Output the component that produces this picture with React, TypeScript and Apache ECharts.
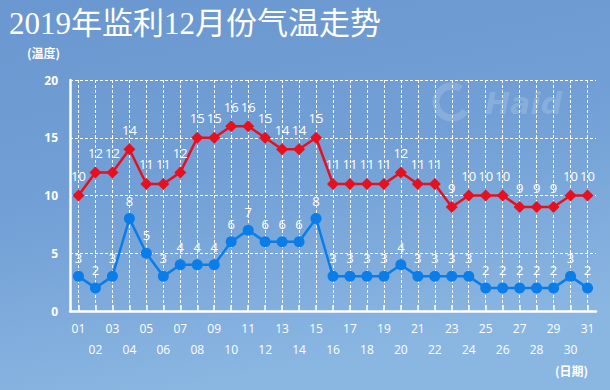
import React, { useEffect, useRef } from "react";
import * as echarts from "echarts";

const days = ["01","02","03","04","05","06","07","08","09","10","11","12","13","14","15","16","17","18","19","20","21","22","23","24","25","26","27","28","29","30","31"];
const highTemps = [10,12,12,14,11,11,12,15,15,16,16,15,14,14,15,11,11,11,11,12,11,11,9,10,10,10,9,9,9,10,10];
const lowTemps = [3,2,3,8,5,3,4,4,4,6,7,6,6,6,8,3,3,3,3,4,3,3,3,3,2,2,2,2,2,3,2];
const yTicks = { min: 0, max: 20, interval: 5 };

export default function App() {
  const ref = useRef<HTMLDivElement>(null);
  useEffect(() => {
    if (!ref.current) return;
    const chart = echarts.init(ref.current, undefined, { renderer: "svg" });
    const labelFont = "'Open Sans', 'DejaVu Sans', sans-serif";
    chart.setOption({
      animation: false,
      backgroundColor: new echarts.graphic.LinearGradient(0, 0, 0.3, 1, [
        { offset: 0, color: "#6a97cf" },
        { offset: 0.5, color: "#729fd5" },
        { offset: 1, color: "#8ab6e2" },
      ]),
      title: {
        text: "2019年监利12月份气温走势",
        left: 4,
        top: 3,
        textStyle: {
          color: "#ffffff",
          fontSize: 31,
          fontWeight: "normal",
          fontFamily: "'Liberation Serif', 'Noto Sans CJK SC', serif",
        },
      },
      graphic: [
        {
          type: "text",
          left: 485,
          top: 88,
          style: {
            text: "Haid",
            fill: "rgba(255,255,255,0.16)",
            font: "italic bold 30px 'DejaVu Sans', sans-serif",
          },
        },
        {
          type: "arc",
          shape: { cx: 452, cy: 102, r: 16, startAngle: 0.6, endAngle: 5.3 },
          style: { stroke: "rgba(255,255,255,0.16)", lineWidth: 7, fill: "none" },
        },
        {
          type: "text",
          left: 27,
          top: 46,
          style: {
            text: "(温度)",
            fill: "#ffffff",
            font: "bold 12px 'Noto Sans CJK SC', sans-serif",
          },
        },
        {
          type: "text",
          left: 555,
          top: 364,
          style: {
            text: "(日期)",
            fill: "#ffffff",
            font: "bold 12px 'Noto Sans CJK SC', sans-serif",
          },
        },
      ],
      grid: { left: 70, right: 14, top: 80, bottom: 79, containLabel: false },
      xAxis: {
        type: "category",
        data: days,
        boundaryGap: true,
        axisLine: { lineStyle: { color: "#ffffff", width: 2.5 } },
        axisTick: { show: true, alignWithLabel: true, inside: true, length: 6, lineStyle: { color: "#ffffff", width: 1.5 } },
        splitLine: {
          show: true,
          alignWithLabel: true,
          lineStyle: { color: "#ffffff", type: [3, 2], width: 1 },
        },
        axisLabel: {
          interval: 0,
          color: "#ffffff",
          fontSize: 12,
          fontFamily: labelFont,
          lineHeight: 21,
          margin: 7,
          formatter: (v: string, i: number) => (i % 2 === 0 ? v + "\n " : " \n" + v),
        },
      },
      yAxis: {
        type: "value",
        min: yTicks.min,
        max: yTicks.max,
        interval: yTicks.interval,
        axisLine: { show: true, lineStyle: { color: "#ffffff", width: 2.5 } },
        axisTick: { show: false },
        axisLabel: {
          color: "#ffffff",
          fontWeight: "bold",
          fontSize: 12,
          fontFamily: labelFont,
          margin: 12,
        },
        splitLine: { show: true, lineStyle: { color: "#ffffff", type: [3, 2], width: 1 } },
      },
      series: [
        {
          name: "最高温度",
          type: "line",
          data: highTemps,
          symbol: "diamond",
          symbolSize: 12,
          itemStyle: { color: "#e8101e" },
          lineStyle: { color: "#e8101e", width: 2.5 },
          label: {
            show: true,
            position: "top",
            distance: 7,
            color: "#ffffff",
            fontSize: 13,
            fontFamily: labelFont,
          },
          z: 3,
        },
        {
          name: "最低温度",
          type: "line",
          data: lowTemps,
          symbol: "circle",
          symbolSize: 11,
          itemStyle: { color: "#0a7de8" },
          lineStyle: { color: "#0a7de8", width: 2.5 },
          label: {
            show: true,
            position: "top",
            distance: 6,
            color: "#ffffff",
            fontSize: 13,
            fontFamily: labelFont,
          },
          z: 3,
        },
      ],
    });
    return () => chart.dispose();
  }, []);
  return (
    <div
      ref={ref}
      style={{ position: "fixed", left: 0, top: 0, width: 610, height: 390 }}
    />
  );
}
